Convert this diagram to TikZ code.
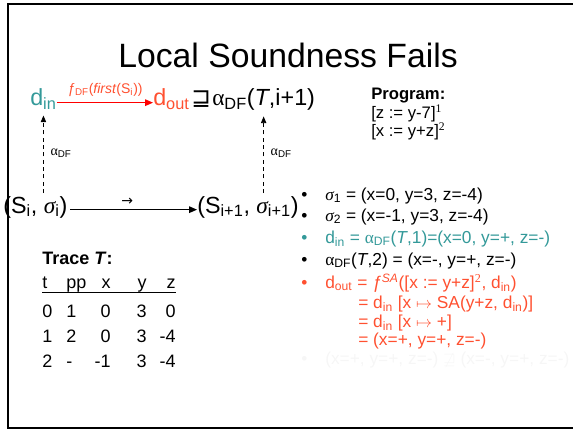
\documentclass[tikz,border=0pt]{standalone}
\usepackage{fontspec}
\setmainfont{Liberation Sans}
\newfontfamily\grk{Liberation Serif}
\newfontfamily\dvs{DejaVu Sans}
\usetikzlibrary{positioning, arrows.meta}
\definecolor{TealA}{HTML}{339999}
\definecolor{RedA}{HTML}{FF5030}
\definecolor{RedB}{HTML}{FF0000}
\definecolor{Ghost}{HTML}{F6F6F6}
\newcommand{\sbs}[1]{\textsubscript{#1}}
\newcommand{\sps}[1]{\textsuperscript{#1}}
\newcommand{\alf}{{\grk α}}
\newcommand{\sig}{{\grk\itshape σ}}
\tikzset{
  headline/.style={font=\fontsize{25.3}{30}\selectfont, inner sep=0pt},
  big/.style={font=\fontsize{17.5}{21}\selectfont, inner sep=0pt, anchor=base west},
  lbl/.style={font=\fontsize{10.5}{12}\selectfont, inner sep=0pt},
  item/.style={font=\fontsize{13}{16}\selectfont, inner sep=0pt, anchor=base west},
  prog/.style={font=\fontsize{12.5}{15}\selectfont, inner sep=0pt, anchor=base west},
  cell/.style={font=\fontsize{13.5}{16}\selectfont, inner sep=0pt},
  arr/.style={-{Triangle[length=6pt,width=5pt]}, line width=0.8pt},
  darr/.style={-{Triangle[length=5pt,width=4pt]}, line width=0.6pt,
               dash pattern=on 3pt off 2.5pt},
}
\begin{document}
\begin{tikzpicture}[x=0.75pt,y=-0.75pt]
  \useasboundingbox (0,0) rectangle (573,431);
  % slide frame
  \draw[line width=1.6pt] (573,4) -- (8,4) -- (8,428) -- (573,428);
  \node[headline] (ttl) at (288,55) {Local Soundness Fails};

  % square: abstract row over concrete row
  \node[big, text=TealA] (din) at (30,106) {d\sbs{in}};
  \node[big, text=RedA] (dout) at (153,106) {d\sbs{out}};
  \node[big] (sq) at (191,106) {{\dvs ⊒}};
  \node[big] (adf) at (212,106) {\alf\sbs{DF}(\textit{T},i+1)};
  \node[big] (si) at (3,213) {(S\sbs{i}, \sig\sbs{i})};
  \node[big] (sj) at (197,213) {(S\sbs{i+1}, \sig\sbs{i+1})};

  \draw[arr, RedB] ([yshift=2.5pt]din.base east) -- ([yshift=2.5pt]dout.base west)
        node[midway, above=4pt, lbl, text=RedA]
        {\textit{ƒ}\sbs{DF}(\textit{first}(S\sbs{i}))};
  \draw[arr] ([yshift=2.5pt,xshift=2pt]si.base east) -- ([yshift=2.5pt]sj.base west)
        node[pos=0.45, above=3pt, lbl] {{\dvs →}};
  \draw[darr, shorten >=4pt, shorten <=2pt] (si.north -| din.south) -- (din.south)
        node[midway, right=5pt, lbl] {\alf\sbs{DF}};
  \draw[darr, shorten >=4pt, shorten <=2pt] (sj.north -| adf.south) -- (adf.south)
        node[midway, right=5pt, lbl] {\alf\sbs{DF}};

  % program
  \node[prog] (pg) at (371,99) {\textbf{Program:}};
  \node[prog] (p1) at (371,118) {[z := y-7]\sps{\grk 1}};
  \node[prog] (p2) at (371,136) {[x := y+z]\sps{\grk 2}};

  % bullets
  \node[item] (b1) at (301,200) {\textbullet};
  \node[item] (l1) at (325,200) {\sig\sbs{1} = (x=0, y=3, z=-4)};
  \node[item] (b2) at (301,221) {\textbullet};
  \node[item] (l2) at (325,221) {\sig\sbs{2} = (x=-1, y=3, z=-4)};
  \node[item, text=TealA] (b3) at (301,243) {\textbullet};
  \node[item, text=TealA] (l3) at (325,243)
       {d\sbs{in} = \alf\sbs{DF}(\textit{T},1)=(x=0, y=+, z=-)};
  \node[item] (b4) at (301,265) {\textbullet};
  \node[item] (l4) at (325,265) {\alf\sbs{DF}(\textit{T},2) = (x=-, y=+, z=-)};
  \node[item, text=RedA] (b5) at (301,288) {\textbullet};
  \node[item, text=RedA] (l5) at (325,288)
       {d\sbs{out} = \textit{ƒ}\sps{\textit{SA}}([x := y+z]\sps{\grk 2}, d\sbs{in})};
  \node[item, text=RedA] (l6) at (358,308) {= d\sbs{in} [x $\mapsto$ SA(y+z, d\sbs{in})]};
  \node[item, text=RedA] (l7) at (358,327) {= d\sbs{in} [x $\mapsto$ +]};
  \node[item, text=RedA] (l8) at (358,345) {= (x=+, y=+, z=-)};
  \node[item, text=Ghost] (b6) at (301,364) {\textbullet};
  \node[item, text=Ghost] (l9) at (325,364)
       {(x=+, y=+, z=-) $\not\sqsupseteq$ (x=-, y=+, z=-)};

  % trace table
  \node[prog, font=\fontsize{13.5}{16}\selectfont] (tr) at (42,264) {\textbf{Trace \textit{T}:}};
  \foreach \tv/\pv/\xv/\yv/\zv/\yy/\nm in {t/pp/x/y/z/288/h, 0/1/0/3/0/317/r0,
                                         1/2/0/3/-4/342/r1, 2/-/-1/3/-4/367/r2}{
    \node[cell, anchor=base west] (\nm-t) at (42,\yy) {\tv};
    \node[cell, anchor=base west] (\nm-p) at (66,\yy) {\pv};
    \node[cell, anchor=base east] (\nm-x) at (111,\yy) {\xv};
    \node[cell, anchor=base east] (\nm-y) at (147,\yy) {\yv};
    \node[cell, anchor=base east] (\nm-z) at (176,\yy) {\zv};
  }
  \draw[line width=0.6pt] ([yshift=-3pt]h-t.base west) -- ([yshift=-3pt]h-z.base east);
\end{tikzpicture}
\end{document}
